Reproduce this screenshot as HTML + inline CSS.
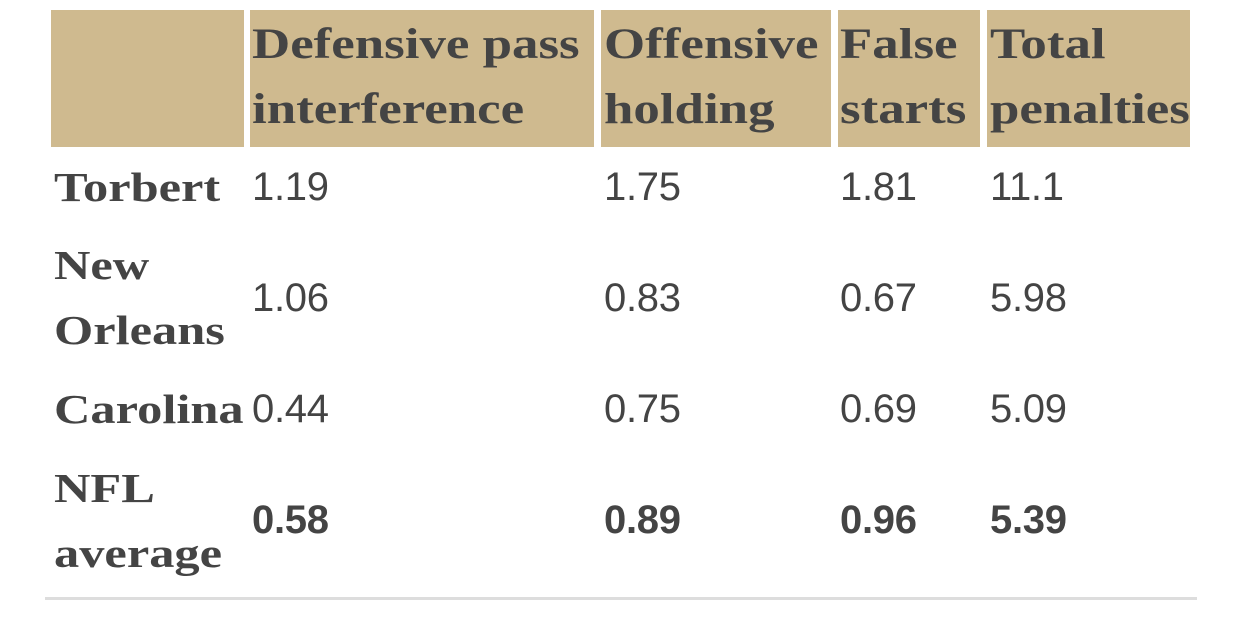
<!DOCTYPE html>
<html><head><meta charset="utf-8"><style>
body{margin:0;width:1242px;height:636px;background:#fff;position:relative;overflow:hidden;color:#444}
.h{position:absolute;top:10px;height:137px;background:#cfba8f}
.ht{position:absolute;font:bold 43px/65px "Liberation Serif",serif;color:#444;white-space:nowrap;top:12px;transform:scaleX(1.23);transform-origin:0 0}
.rl{position:absolute;font:bold 41px/65px "Liberation Serif",serif;color:#444;left:54px;transform:scaleX(1.23);transform-origin:0 0}
.v{position:absolute;font:40px/65px "Liberation Sans",sans-serif;color:#444;letter-spacing:-0.3px}
.b{font-weight:bold}
</style></head><body>
<div>
<div class="h" style="left:51px;width:193px"></div>
<div class="h" style="left:250px;width:344px"></div>
<div class="h" style="left:601px;width:230px"></div>
<div class="h" style="left:838px;width:142px"></div>
<div class="h" style="left:987px;width:203px"></div>
<div class="ht" style="left:252px">Defensive pass<br>interference</div>
<div class="ht" style="left:604px">Offensive<br>holding</div>
<div class="ht" style="left:840px">False<br>starts</div>
<div class="ht" style="left:990px">Total<br>penalties</div>

<div class="rl" style="top:155px">Torbert</div>
<div class="v" style="left:252px;top:155px">1.19</div>
<div class="v" style="left:604px;top:155px">1.75</div>
<div class="v" style="left:840px;top:155px">1.81</div>
<div class="v" style="left:990px;top:155px">11.1</div>

<div class="rl" style="top:233px">New<br>Orleans</div>
<div class="v" style="left:252px;top:266px">1.06</div>
<div class="v" style="left:604px;top:266px">0.83</div>
<div class="v" style="left:840px;top:266px">0.67</div>
<div class="v" style="left:990px;top:266px">5.98</div>

<div class="rl" style="top:377px">Carolina</div>
<div class="v" style="left:252px;top:377px">0.44</div>
<div class="v" style="left:604px;top:377px">0.75</div>
<div class="v" style="left:840px;top:377px">0.69</div>
<div class="v" style="left:990px;top:377px">5.09</div>

<div class="rl" style="top:456px">NFL<br>average</div>
<div class="v b" style="left:252px;top:488px">0.58</div>
<div class="v b" style="left:604px;top:488px">0.89</div>
<div class="v b" style="left:840px;top:488px">0.96</div>
<div class="v b" style="left:990px;top:488px">5.39</div>

<div style="position:absolute;left:45px;top:597px;width:1152px;height:3px;background:#ddd"></div>
</div>
</body></html>
